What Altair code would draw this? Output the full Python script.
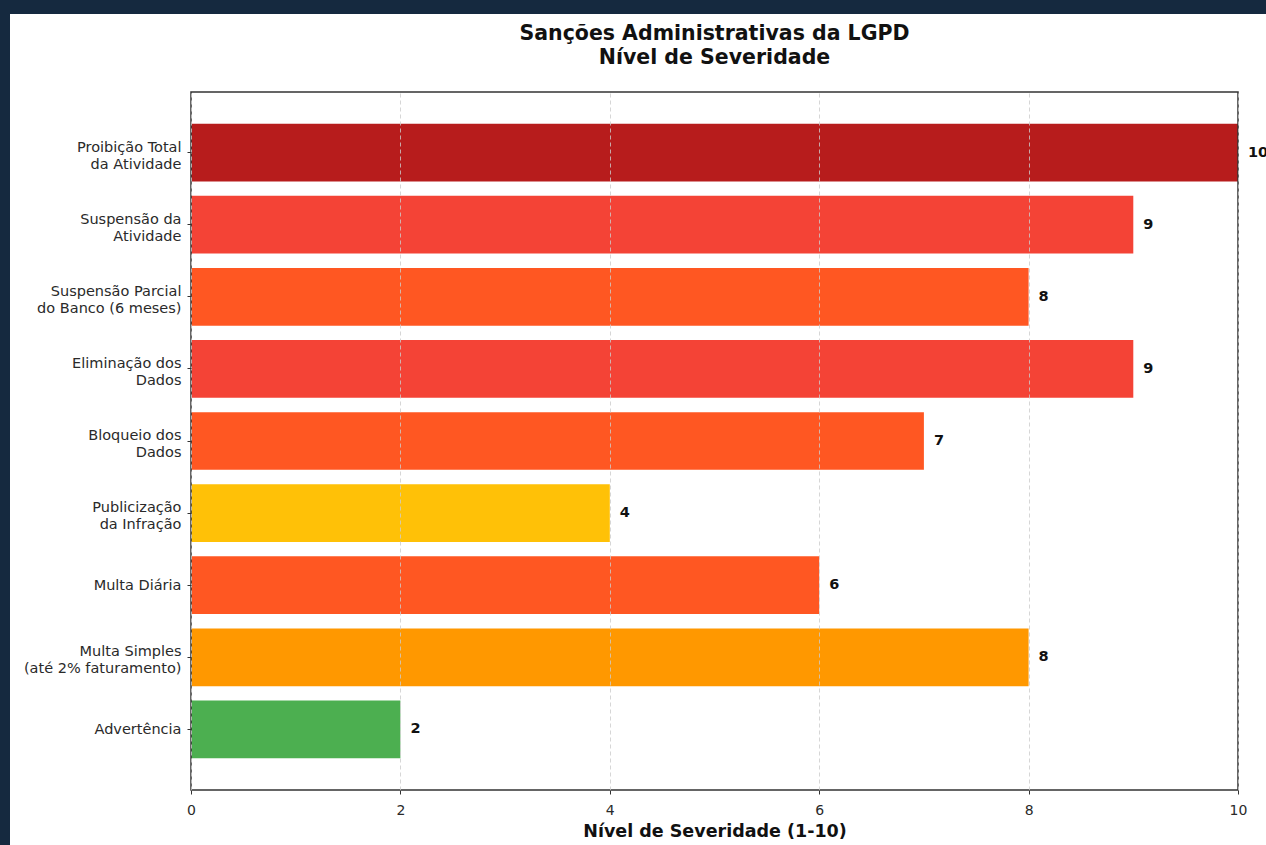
import altair as alt
import pandas as pd

categories = [
    "Proibição Total\nda Atividade",
    "Suspensão da\nAtividade",
    "Suspensão Parcial\ndo Banco (6 meses)",
    "Eliminação dos\nDados",
    "Bloqueio dos\nDados",
    "Publicização\nda Infração",
    "Multa Diária",
    "Multa Simples\n(até 2% faturamento)",
    "Advertência",
]
severity = [10, 9, 8, 9, 7, 4, 6, 8, 2]
colors = ["#B71C1C", "#F44336", "#FF5722", "#F44336", "#FF5722",
          "#FFC107", "#FF5722", "#FF9800", "#4CAF50"]
x_ticks = [0, 2, 4, 6, 8, 10]
title_lines = ["Sanções Administrativas da LGPD", "Nível de Severidade"]

df = pd.DataFrame({"cat": categories, "val": severity, "color": colors})

W, H = 1047, 698
PAD_L, PAD_T, PAD_R, PAD_B = 191, 92, 28, 55

y_enc = alt.Y("cat:N", sort=categories, title=None,
              scale=alt.Scale(paddingInner=0.2, paddingOuter=0.44),
              axis=alt.Axis(labelExpr="split(datum.value, '\\n')",
                            labelFont="DejaVu Sans", labelFontSize=14.5,
                            labelColor="#2a2a2a", labelLineHeight=17,
                            labelOffset=alt.condition("indexof(datum.value, '\\n') >= 0",
                                                      alt.value(-5), alt.value(1)),
                            tickSize=4, tickColor="#333", labelPadding=6,
                            domain=False, grid=False, zindex=1))
x_enc = alt.X("val:Q", title="Nível de Severidade (1-10)",
              scale=alt.Scale(domain=[0, 10], nice=False),
              axis=alt.Axis(values=x_ticks, format="d", grid=True, gridDash=[4, 3],
                            gridColor="#cccccc", gridOpacity=0.8, labelFlush=False,
                            tickSize=4, tickColor="#333", domain=False,
                            labelFont="DejaVu Sans", labelFontSize=14,
                            labelColor="#2a2a2a", labelPadding=9,
                            titleFont="DejaVu Sans", titleFontSize=17.5,
                            titleFontWeight="bold", titleColor="#111",
                            titlePadding=5, zindex=1))

one = pd.DataFrame({"a": [0]})

panel = alt.Chart(one).mark_rect(color="white").encode(
    x=alt.value(-181), x2=alt.value(W + PAD_R + 10),
    y=alt.value(-78), y2=alt.value(H + PAD_B + 10),
)

bars = alt.Chart(df).mark_bar().encode(
    x=x_enc, y=y_enc,
    color=alt.Color("color:N", scale=None),
)

labels = alt.Chart(df).mark_text(
    align="left", baseline="middle", dx=10, fontWeight="bold",
    font="DejaVu Sans", fontSize=14.5, color="#111"
).encode(x="val:Q", y=alt.Y("cat:N", sort=categories), text="val:Q")

frame = alt.Chart(one).mark_rect(fill=None, stroke="#333", strokeWidth=1.5).encode(
    x=alt.value(0), x2=alt.value(W), y=alt.value(0), y2=alt.value(H),
)

title1 = alt.Chart(one).mark_text(
    text=title_lines[0], font="DejaVu Sans", fontSize=20.5, fontWeight="bold",
    color="#111", align="center", baseline="middle"
).encode(x=alt.value(W / 2), y=alt.value(-58))

title2 = alt.Chart(one).mark_text(
    text=title_lines[1], font="DejaVu Sans", fontSize=20.5, fontWeight="bold",
    color="#111", align="center", baseline="middle"
).encode(x=alt.value(W / 2), y=alt.value(-34))

chart = alt.layer(panel, bars, labels, frame, title1, title2).properties(
    width=W, height=H,
    autosize=alt.AutoSizeParams(type="none"),
    padding={"left": PAD_L, "top": PAD_T, "right": PAD_R, "bottom": PAD_B},
    background="#15293f",
).configure_view(stroke=None)

chart.save("out.html", embed_options={"renderer": "svg", "actions": False})
